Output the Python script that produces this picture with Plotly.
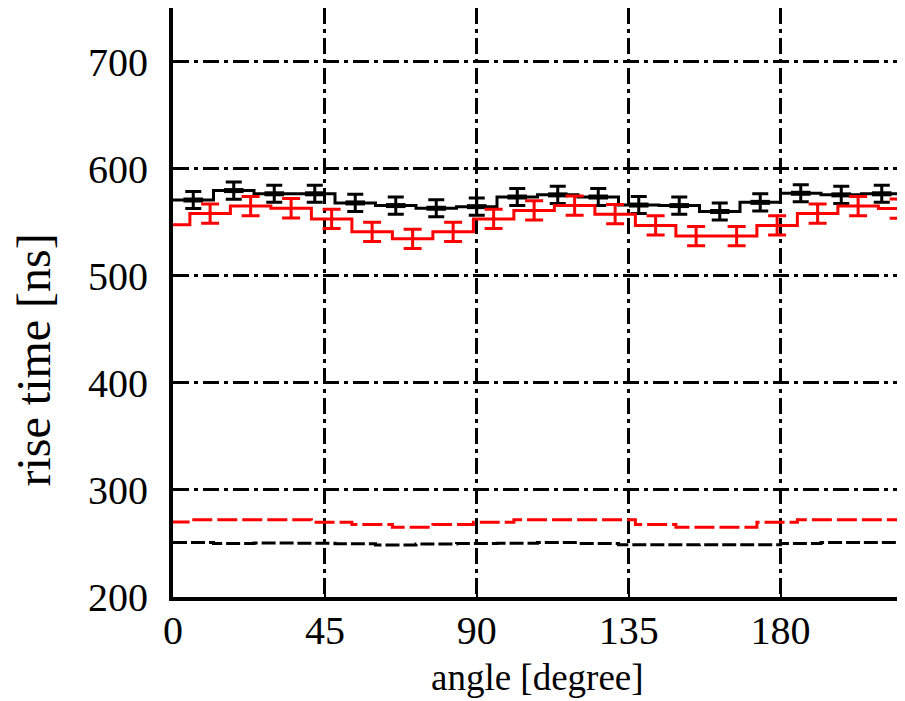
import plotly.graph_objects as go

# ---- data ----
black_centers = [6, 18, 30, 42, 54, 66, 78, 90, 102, 114, 126, 138, 150, 162, 174, 186, 198, 210]
black_vals = [570.7, 579.5, 576.5, 576.5, 568.0, 565.5, 563.0, 564.5, 573.5, 575.5,
              573.5, 566.0, 565.5, 560.0, 568.5, 577.0, 575.5, 576.5]
black_err = [8.0] * 18

red_centers = [11, 23, 35, 47, 59, 71, 83, 95, 107, 119, 131, 143, 155, 167, 179, 191, 203, 215]
red_vals = [558.0, 565.0, 563.0, 553.0, 541.0, 534.5, 541.0, 553.0, 561.0, 565.5,
            557.5, 547.0, 537.0, 537.0, 547.0, 558.0, 565.0, 562.7]
red_err = [9.0] * 18
red_prev_center = -1       # partial bin visible at the left edge
red_prev_val = 547.5

red_low_vals = [272.2, 272.2, 272.2, 269.7, 267.6, 265.1, 267.6, 269.7, 272.2, 272.2,
                272.2, 267.6, 265.1, 265.1, 269.7, 272.2, 272.2, 272.2]
red_low_prev = 270.0
black_low_vals = [250.8, 250.0, 250.5, 250.3, 249.8, 248.5, 249.5, 250.0, 250.3, 251.0,
                  250.0, 248.7, 248.7, 248.8, 248.8, 250.0, 250.8, 251.0]

x_ticks = [0, 45, 90, 135, 180]
y_ticks = [200, 300, 400, 500, 600, 700]
x_range = [0, 216]
y_range = [200, 750]
x_title = "angle [degree]"
y_title = "rise time [ns]"

RED = "#ff0000"
BLK = "#000000"
FONT = "Liberation Serif"

fig = go.Figure()

# bottom dashed step lines
fig.add_trace(go.Scatter(
    x=[x_range[0]] + black_centers + [x_range[1]],
    y=[black_low_vals[0]] + black_low_vals + [black_low_vals[-1]],
    mode="lines", line=dict(color=BLK, width=3, shape="hvh", dash="14px,4px"),
    showlegend=False, hoverinfo="skip"))
fig.add_trace(go.Scatter(
    x=[red_prev_center] + red_centers + [x_range[1]],
    y=[red_low_prev] + red_low_vals + [red_low_vals[-1]],
    mode="lines", line=dict(color=RED, width=3, shape="hvh", dash="20px,5px"),
    showlegend=False, hoverinfo="skip"))

# black step line + error bars
fig.add_trace(go.Scatter(
    x=[x_range[0]] + black_centers + [x_range[1]],
    y=[black_vals[0]] + black_vals + [black_vals[-1]],
    mode="lines", line=dict(color=BLK, width=3, shape="hvh"),
    showlegend=False, hoverinfo="skip"))
fig.add_trace(go.Scatter(
    x=black_centers, y=black_vals, mode="markers",
    marker=dict(symbol="line-ew", size=14, color=BLK, line=dict(color=BLK, width=5)),
    error_y=dict(type="data", array=black_err, color=BLK, thickness=3, width=8),
    showlegend=False))

# red step line + error bars
fig.add_trace(go.Scatter(
    x=[red_prev_center] + red_centers + [x_range[1]],
    y=[red_prev_val] + red_vals + [red_vals[-1]],
    mode="lines", line=dict(color=RED, width=3, shape="hvh"),
    showlegend=False, hoverinfo="skip"))
fig.add_trace(go.Scatter(
    x=red_centers, y=red_vals, mode="markers",
    marker=dict(size=1, color=RED, opacity=0),
    error_y=dict(type="data", array=red_err, color=RED, thickness=3, width=9),
    showlegend=False))

fig.update_layout(
    width=897, height=693,
    margin=dict(l=165, r=3, t=0, b=104, autoexpand=False),
    paper_bgcolor="white", plot_bgcolor="white",
    font=dict(family=FONT, size=40, color=BLK),
    annotations=[
        dict(text=x_title, xref="paper", yref="paper", x=0.5, y=0,
             xanchor="center", yanchor="middle", yshift=-80, showarrow=False,
             font=dict(family=FONT, size=37, color=BLK)),
        dict(text=y_title, xref="paper", yref="paper", x=0, y=0.5,
             xanchor="center", yanchor="middle", xshift=-140, yshift=-58,
             textangle=-90, showarrow=False,
             font=dict(family=FONT, size=48, color=BLK)),
    ],
)
fig.update_xaxes(
    range=x_range, tickvals=x_ticks, ticktext=[str(v) for v in x_ticks],
    showgrid=True, gridcolor=BLK, gridwidth=2.5, griddash="16px,5px,4px,5px",
    showline=True, linecolor=BLK, linewidth=4, mirror=True,
    ticks="inside", ticklen=9, tickwidth=2, tickcolor=BLK,
    zeroline=False, ticklabelstandoff=-5, automargin=False,
    tickfont=dict(family=FONT, size=40),
)
fig.update_yaxes(
    range=y_range, tickvals=y_ticks, ticktext=[str(v) for v in y_ticks],
    showgrid=True, gridcolor=BLK, gridwidth=2.5, griddash="16px,5px,4px,5px",
    showline=True, linecolor=BLK, linewidth=4, mirror=True,
    ticks="inside", ticklen=9, tickwidth=2, tickcolor=BLK,
    zeroline=False, ticklabelstandoff=13, automargin=False,
    tickfont=dict(family=FONT, size=40),
)

fig.write_html("out.html")
